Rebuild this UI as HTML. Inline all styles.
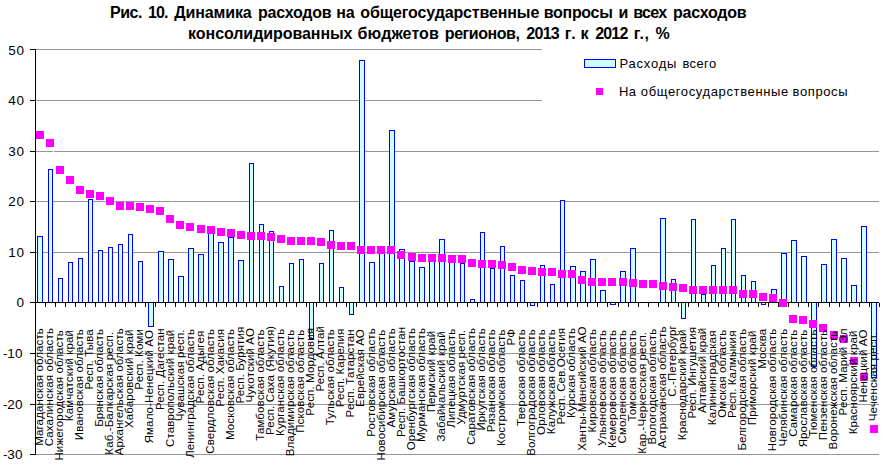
<!DOCTYPE html>
<html><head><meta charset="utf-8"><style>
html,body{margin:0;padding:0;background:#fff;}
svg{display:block;}
.g{stroke:#969696;stroke-width:1;}
.a{stroke:#000;stroke-width:1;}
.b{fill:#ccffff;stroke:#0000ff;stroke-width:1;}
.m{fill:#ff00ff;}
text{font-family:"Liberation Sans",Arial,sans-serif;fill:#000;}
.yl{font-size:13.5px;text-anchor:end;}
.cl{font-size:11.5px;letter-spacing:0.13px;text-anchor:end;}
.lg{font-size:13px;}
.t{font-size:16px;font-weight:bold;}
</style></head><body>
<svg width="883" height="469" viewBox="0 0 883 469" shape-rendering="crispEdges">
<line x1="36" y1="49.5" x2="879" y2="49.5" class="g"/>
<line x1="36" y1="100.5" x2="879" y2="100.5" class="g"/>
<line x1="36" y1="151.5" x2="879" y2="151.5" class="g"/>
<line x1="36" y1="201.5" x2="879" y2="201.5" class="g"/>
<line x1="36" y1="252.5" x2="879" y2="252.5" class="g"/>
<line x1="36" y1="353.5" x2="879" y2="353.5" class="g"/>
<line x1="36" y1="404.5" x2="879" y2="404.5" class="g"/>
<line x1="36" y1="454.5" x2="879" y2="454.5" class="g"/>
<rect x="53" y="151" width="1" height="1" fill="#fff"/>
<rect x="37.5" y="236.5" width="5" height="66" class="b"/>
<rect x="48.5" y="169.5" width="4" height="133" class="b"/>
<rect x="58.5" y="278.5" width="4" height="24" class="b"/>
<rect x="68.5" y="262.5" width="4" height="40" class="b"/>
<rect x="78.5" y="258.5" width="4" height="44" class="b"/>
<rect x="88.5" y="199.5" width="4" height="103" class="b"/>
<rect x="98.5" y="250.5" width="4" height="52" class="b"/>
<rect x="108.5" y="247.5" width="4" height="55" class="b"/>
<rect x="118.5" y="244.5" width="4" height="58" class="b"/>
<rect x="128.5" y="234.5" width="4" height="68" class="b"/>
<rect x="138.5" y="261.5" width="4" height="41" class="b"/>
<rect x="148.5" y="302.5" width="5" height="24" class="b"/>
<rect x="158.5" y="251.5" width="5" height="51" class="b"/>
<rect x="168.5" y="259.5" width="5" height="43" class="b"/>
<rect x="178.5" y="276.5" width="5" height="26" class="b"/>
<rect x="188.5" y="248.5" width="5" height="54" class="b"/>
<rect x="198.5" y="254.5" width="5" height="48" class="b"/>
<rect x="208.5" y="232.5" width="5" height="70" class="b"/>
<rect x="218.5" y="242.5" width="5" height="60" class="b"/>
<rect x="228.5" y="237.5" width="5" height="65" class="b"/>
<rect x="238.5" y="260.5" width="5" height="42" class="b"/>
<rect x="249.5" y="163.5" width="4" height="139" class="b"/>
<rect x="259.5" y="224.5" width="4" height="78" class="b"/>
<rect x="269.5" y="231.5" width="4" height="71" class="b"/>
<rect x="279.5" y="286.5" width="4" height="16" class="b"/>
<rect x="289.5" y="263.5" width="4" height="39" class="b"/>
<rect x="299.5" y="259.5" width="4" height="43" class="b"/>
<rect x="309.5" y="302.5" width="4" height="36" class="b"/>
<rect x="319.5" y="263.5" width="4" height="39" class="b"/>
<rect x="329.5" y="230.5" width="4" height="72" class="b"/>
<rect x="339.5" y="287.5" width="4" height="15" class="b"/>
<rect x="349.5" y="302.5" width="4" height="12" class="b"/>
<rect x="359.5" y="60.5" width="5" height="242" class="b"/>
<rect x="369.5" y="262.5" width="5" height="40" class="b"/>
<rect x="379.5" y="249.5" width="5" height="53" class="b"/>
<rect x="389.5" y="130.5" width="5" height="172" class="b"/>
<rect x="399.5" y="249.5" width="5" height="53" class="b"/>
<rect x="409.5" y="261.5" width="5" height="41" class="b"/>
<rect x="419.5" y="267.5" width="5" height="35" class="b"/>
<rect x="429.5" y="259.5" width="5" height="43" class="b"/>
<rect x="439.5" y="239.5" width="5" height="63" class="b"/>
<rect x="449.5" y="259.5" width="5" height="43" class="b"/>
<rect x="460.5" y="263.5" width="4" height="39" class="b"/>
<rect x="470.5" y="299.5" width="4" height="3" class="b"/>
<rect x="480.5" y="232.5" width="4" height="70" class="b"/>
<rect x="490.5" y="268.5" width="4" height="34" class="b"/>
<rect x="500.5" y="246.5" width="4" height="56" class="b"/>
<rect x="510.5" y="275.5" width="4" height="27" class="b"/>
<rect x="520.5" y="280.5" width="4" height="22" class="b"/>
<rect x="530.5" y="302.5" width="4" height="3" class="b"/>
<rect x="540.5" y="265.5" width="4" height="37" class="b"/>
<rect x="550.5" y="284.5" width="4" height="18" class="b"/>
<rect x="560.5" y="200.5" width="4" height="102" class="b"/>
<rect x="570.5" y="266.5" width="5" height="36" class="b"/>
<rect x="580.5" y="271.5" width="5" height="31" class="b"/>
<rect x="590.5" y="259.5" width="5" height="43" class="b"/>
<rect x="600.5" y="290.5" width="5" height="12" class="b"/>
<rect x="610.5" y="302.5" width="5" height="2" class="b"/>
<rect x="620.5" y="271.5" width="5" height="31" class="b"/>
<rect x="630.5" y="248.5" width="5" height="54" class="b"/>
<rect x="660.5" y="218.5" width="5" height="84" class="b"/>
<rect x="671.5" y="279.5" width="4" height="23" class="b"/>
<rect x="681.5" y="302.5" width="4" height="16" class="b"/>
<rect x="691.5" y="219.5" width="4" height="83" class="b"/>
<rect x="701.5" y="294.5" width="4" height="8" class="b"/>
<rect x="711.5" y="265.5" width="4" height="37" class="b"/>
<rect x="721.5" y="248.5" width="4" height="54" class="b"/>
<rect x="731.5" y="219.5" width="4" height="83" class="b"/>
<rect x="741.5" y="275.5" width="4" height="27" class="b"/>
<rect x="751.5" y="281.5" width="4" height="21" class="b"/>
<rect x="761.5" y="302.5" width="4" height="2" class="b"/>
<rect x="771.5" y="289.5" width="5" height="13" class="b"/>
<rect x="781.5" y="253.5" width="5" height="49" class="b"/>
<rect x="791.5" y="240.5" width="5" height="62" class="b"/>
<rect x="801.5" y="256.5" width="5" height="46" class="b"/>
<rect x="811.5" y="302.5" width="5" height="64" class="b"/>
<rect x="821.5" y="264.5" width="5" height="38" class="b"/>
<rect x="831.5" y="239.5" width="5" height="63" class="b"/>
<rect x="841.5" y="258.5" width="5" height="44" class="b"/>
<rect x="851.5" y="285.5" width="5" height="17" class="b"/>
<rect x="861.5" y="226.5" width="5" height="76" class="b"/>
<rect x="871.5" y="302.5" width="5" height="75" class="b"/>
<line x1="35.5" y1="49" x2="35.5" y2="455" class="a"/>
<line x1="30" y1="49.5" x2="35" y2="49.5" class="a"/>
<line x1="30" y1="100.5" x2="35" y2="100.5" class="a"/>
<line x1="30" y1="151.5" x2="35" y2="151.5" class="a"/>
<line x1="30" y1="201.5" x2="35" y2="201.5" class="a"/>
<line x1="30" y1="252.5" x2="35" y2="252.5" class="a"/>
<line x1="30" y1="302.5" x2="35" y2="302.5" class="a"/>
<line x1="30" y1="353.5" x2="35" y2="353.5" class="a"/>
<line x1="30" y1="404.5" x2="35" y2="404.5" class="a"/>
<line x1="30" y1="454.5" x2="35" y2="454.5" class="a"/>
<line x1="35" y1="302.5" x2="879" y2="302.5" class="a"/>
<line x1="45.5" y1="303" x2="45.5" y2="307" class="a"/>
<line x1="55.5" y1="303" x2="55.5" y2="307" class="a"/>
<line x1="65.5" y1="303" x2="65.5" y2="307" class="a"/>
<line x1="75.5" y1="303" x2="75.5" y2="307" class="a"/>
<line x1="85.5" y1="303" x2="85.5" y2="307" class="a"/>
<line x1="95.5" y1="303" x2="95.5" y2="307" class="a"/>
<line x1="105.5" y1="303" x2="105.5" y2="307" class="a"/>
<line x1="115.5" y1="303" x2="115.5" y2="307" class="a"/>
<line x1="125.5" y1="303" x2="125.5" y2="307" class="a"/>
<line x1="135.5" y1="303" x2="135.5" y2="307" class="a"/>
<line x1="145.5" y1="303" x2="145.5" y2="307" class="a"/>
<line x1="155.5" y1="303" x2="155.5" y2="307" class="a"/>
<line x1="165.5" y1="303" x2="165.5" y2="307" class="a"/>
<line x1="175.5" y1="303" x2="175.5" y2="307" class="a"/>
<line x1="185.5" y1="303" x2="185.5" y2="307" class="a"/>
<line x1="195.5" y1="303" x2="195.5" y2="307" class="a"/>
<line x1="206.5" y1="303" x2="206.5" y2="307" class="a"/>
<line x1="216.5" y1="303" x2="216.5" y2="307" class="a"/>
<line x1="226.5" y1="303" x2="226.5" y2="307" class="a"/>
<line x1="236.5" y1="303" x2="236.5" y2="307" class="a"/>
<line x1="246.5" y1="303" x2="246.5" y2="307" class="a"/>
<line x1="256.5" y1="303" x2="256.5" y2="307" class="a"/>
<line x1="266.5" y1="303" x2="266.5" y2="307" class="a"/>
<line x1="276.5" y1="303" x2="276.5" y2="307" class="a"/>
<line x1="286.5" y1="303" x2="286.5" y2="307" class="a"/>
<line x1="296.5" y1="303" x2="296.5" y2="307" class="a"/>
<line x1="306.5" y1="303" x2="306.5" y2="307" class="a"/>
<line x1="316.5" y1="303" x2="316.5" y2="307" class="a"/>
<line x1="326.5" y1="303" x2="326.5" y2="307" class="a"/>
<line x1="336.5" y1="303" x2="336.5" y2="307" class="a"/>
<line x1="346.5" y1="303" x2="346.5" y2="307" class="a"/>
<line x1="356.5" y1="303" x2="356.5" y2="307" class="a"/>
<line x1="366.5" y1="303" x2="366.5" y2="307" class="a"/>
<line x1="376.5" y1="303" x2="376.5" y2="307" class="a"/>
<line x1="386.5" y1="303" x2="386.5" y2="307" class="a"/>
<line x1="396.5" y1="303" x2="396.5" y2="307" class="a"/>
<line x1="406.5" y1="303" x2="406.5" y2="307" class="a"/>
<line x1="417.5" y1="303" x2="417.5" y2="307" class="a"/>
<line x1="427.5" y1="303" x2="427.5" y2="307" class="a"/>
<line x1="437.5" y1="303" x2="437.5" y2="307" class="a"/>
<line x1="447.5" y1="303" x2="447.5" y2="307" class="a"/>
<line x1="457.5" y1="303" x2="457.5" y2="307" class="a"/>
<line x1="467.5" y1="303" x2="467.5" y2="307" class="a"/>
<line x1="477.5" y1="303" x2="477.5" y2="307" class="a"/>
<line x1="487.5" y1="303" x2="487.5" y2="307" class="a"/>
<line x1="497.5" y1="303" x2="497.5" y2="307" class="a"/>
<line x1="507.5" y1="303" x2="507.5" y2="307" class="a"/>
<line x1="517.5" y1="303" x2="517.5" y2="307" class="a"/>
<line x1="527.5" y1="303" x2="527.5" y2="307" class="a"/>
<line x1="537.5" y1="303" x2="537.5" y2="307" class="a"/>
<line x1="547.5" y1="303" x2="547.5" y2="307" class="a"/>
<line x1="557.5" y1="303" x2="557.5" y2="307" class="a"/>
<line x1="567.5" y1="303" x2="567.5" y2="307" class="a"/>
<line x1="577.5" y1="303" x2="577.5" y2="307" class="a"/>
<line x1="587.5" y1="303" x2="587.5" y2="307" class="a"/>
<line x1="597.5" y1="303" x2="597.5" y2="307" class="a"/>
<line x1="607.5" y1="303" x2="607.5" y2="307" class="a"/>
<line x1="618.5" y1="303" x2="618.5" y2="307" class="a"/>
<line x1="628.5" y1="303" x2="628.5" y2="307" class="a"/>
<line x1="638.5" y1="303" x2="638.5" y2="307" class="a"/>
<line x1="648.5" y1="303" x2="648.5" y2="307" class="a"/>
<line x1="658.5" y1="303" x2="658.5" y2="307" class="a"/>
<line x1="668.5" y1="303" x2="668.5" y2="307" class="a"/>
<line x1="678.5" y1="303" x2="678.5" y2="307" class="a"/>
<line x1="688.5" y1="303" x2="688.5" y2="307" class="a"/>
<line x1="698.5" y1="303" x2="698.5" y2="307" class="a"/>
<line x1="708.5" y1="303" x2="708.5" y2="307" class="a"/>
<line x1="718.5" y1="303" x2="718.5" y2="307" class="a"/>
<line x1="728.5" y1="303" x2="728.5" y2="307" class="a"/>
<line x1="738.5" y1="303" x2="738.5" y2="307" class="a"/>
<line x1="748.5" y1="303" x2="748.5" y2="307" class="a"/>
<line x1="758.5" y1="303" x2="758.5" y2="307" class="a"/>
<line x1="768.5" y1="303" x2="768.5" y2="307" class="a"/>
<line x1="778.5" y1="303" x2="778.5" y2="307" class="a"/>
<line x1="788.5" y1="303" x2="788.5" y2="307" class="a"/>
<line x1="798.5" y1="303" x2="798.5" y2="307" class="a"/>
<line x1="808.5" y1="303" x2="808.5" y2="307" class="a"/>
<line x1="818.5" y1="303" x2="818.5" y2="307" class="a"/>
<line x1="829.5" y1="303" x2="829.5" y2="307" class="a"/>
<line x1="839.5" y1="303" x2="839.5" y2="307" class="a"/>
<line x1="849.5" y1="303" x2="849.5" y2="307" class="a"/>
<line x1="859.5" y1="303" x2="859.5" y2="307" class="a"/>
<line x1="869.5" y1="303" x2="869.5" y2="307" class="a"/>
<line x1="879.5" y1="303" x2="879.5" y2="307" class="a"/>
<rect x="36" y="131" width="8" height="8" class="m"/>
<rect x="46" y="139" width="8" height="8" class="m"/>
<rect x="56" y="166" width="8" height="8" class="m"/>
<rect x="66" y="176" width="8" height="8" class="m"/>
<rect x="76" y="186" width="8" height="8" class="m"/>
<rect x="86" y="190" width="8" height="8" class="m"/>
<rect x="96" y="192" width="8" height="8" class="m"/>
<rect x="106" y="197" width="8" height="8" class="m"/>
<rect x="116" y="202" width="8" height="8" class="m"/>
<rect x="126" y="202" width="8" height="8" class="m"/>
<rect x="136" y="203" width="8" height="8" class="m"/>
<rect x="146" y="205" width="8" height="8" class="m"/>
<rect x="156" y="207" width="8" height="8" class="m"/>
<rect x="166" y="215" width="8" height="8" class="m"/>
<rect x="176" y="221" width="8" height="8" class="m"/>
<rect x="186" y="223" width="8" height="8" class="m"/>
<rect x="197" y="225" width="8" height="8" class="m"/>
<rect x="207" y="226" width="8" height="8" class="m"/>
<rect x="217" y="228" width="8" height="8" class="m"/>
<rect x="227" y="229" width="8" height="8" class="m"/>
<rect x="237" y="231" width="8" height="8" class="m"/>
<rect x="247" y="232" width="8" height="8" class="m"/>
<rect x="257" y="232" width="8" height="8" class="m"/>
<rect x="267" y="233" width="8" height="8" class="m"/>
<rect x="277" y="235" width="8" height="8" class="m"/>
<rect x="287" y="237" width="8" height="8" class="m"/>
<rect x="297" y="237" width="8" height="8" class="m"/>
<rect x="307" y="237" width="8" height="8" class="m"/>
<rect x="317" y="238" width="8" height="8" class="m"/>
<rect x="327" y="241" width="8" height="8" class="m"/>
<rect x="337" y="242" width="8" height="8" class="m"/>
<rect x="347" y="242" width="8" height="8" class="m"/>
<rect x="357" y="246" width="8" height="8" class="m"/>
<rect x="367" y="246" width="8" height="8" class="m"/>
<rect x="377" y="246" width="8" height="8" class="m"/>
<rect x="387" y="246" width="8" height="8" class="m"/>
<rect x="397" y="251" width="8" height="8" class="m"/>
<rect x="408" y="253" width="8" height="8" class="m"/>
<rect x="418" y="254" width="8" height="8" class="m"/>
<rect x="428" y="254" width="8" height="8" class="m"/>
<rect x="438" y="254" width="8" height="8" class="m"/>
<rect x="448" y="255" width="8" height="8" class="m"/>
<rect x="458" y="255" width="8" height="8" class="m"/>
<rect x="468" y="259" width="8" height="8" class="m"/>
<rect x="478" y="260" width="8" height="8" class="m"/>
<rect x="488" y="260" width="8" height="8" class="m"/>
<rect x="498" y="261" width="8" height="8" class="m"/>
<rect x="508" y="263" width="8" height="8" class="m"/>
<rect x="518" y="266" width="8" height="8" class="m"/>
<rect x="528" y="267" width="8" height="8" class="m"/>
<rect x="538" y="268" width="8" height="8" class="m"/>
<rect x="548" y="268" width="8" height="8" class="m"/>
<rect x="558" y="270" width="8" height="8" class="m"/>
<rect x="568" y="270" width="8" height="8" class="m"/>
<rect x="578" y="276" width="8" height="8" class="m"/>
<rect x="588" y="278" width="8" height="8" class="m"/>
<rect x="598" y="278" width="8" height="8" class="m"/>
<rect x="608" y="278" width="8" height="8" class="m"/>
<rect x="619" y="278" width="8" height="8" class="m"/>
<rect x="629" y="279" width="8" height="8" class="m"/>
<rect x="639" y="280" width="8" height="8" class="m"/>
<rect x="649" y="280" width="8" height="8" class="m"/>
<rect x="659" y="282" width="8" height="8" class="m"/>
<rect x="669" y="283" width="8" height="8" class="m"/>
<rect x="679" y="284" width="8" height="8" class="m"/>
<rect x="689" y="286" width="8" height="8" class="m"/>
<rect x="699" y="286" width="8" height="8" class="m"/>
<rect x="709" y="286" width="8" height="8" class="m"/>
<rect x="719" y="286" width="8" height="8" class="m"/>
<rect x="729" y="286" width="8" height="8" class="m"/>
<rect x="739" y="290" width="8" height="8" class="m"/>
<rect x="749" y="290" width="8" height="8" class="m"/>
<rect x="759" y="293" width="8" height="8" class="m"/>
<rect x="769" y="294" width="8" height="8" class="m"/>
<rect x="779" y="299" width="8" height="8" class="m"/>
<rect x="789" y="315" width="8" height="8" class="m"/>
<rect x="799" y="316" width="8" height="8" class="m"/>
<rect x="809" y="320" width="8" height="8" class="m"/>
<rect x="819" y="324" width="8" height="8" class="m"/>
<rect x="830" y="331" width="8" height="8" class="m"/>
<rect x="840" y="335" width="8" height="8" class="m"/>
<rect x="850" y="357" width="8" height="8" class="m"/>
<rect x="860" y="373" width="8" height="8" class="m"/>
<rect x="870" y="425" width="8" height="8" class="m"/>
<text x="24.9" y="55" class="yl" letter-spacing="0.8">50</text>
<text x="24.9" y="105" class="yl" letter-spacing="0.8">40</text>
<text x="24.9" y="156" class="yl" letter-spacing="0.8">30</text>
<text x="24.9" y="206" class="yl" letter-spacing="0.8">20</text>
<text x="24.9" y="257" class="yl" letter-spacing="0.8">10</text>
<text x="24.9" y="307" class="yl" letter-spacing="0.8">0</text>
<text x="22.4" y="358.4" class="yl">-10</text>
<text x="22.4" y="409.4" class="yl">-20</text>
<text x="22.4" y="459.4" class="yl">-30</text>
<text transform="translate(42.94,328.0) rotate(-90)" class="cl">Магаданская область</text>
<text transform="translate(52.99,328.0) rotate(-90)" class="cl">Сахалинская область</text>
<text transform="translate(63.04,330.0) rotate(-90)" class="cl">Нижегородская область</text>
<text transform="translate(73.09,329.9) rotate(-90)" class="cl">Камчатский край</text>
<text transform="translate(83.14,329.1) rotate(-90)" class="cl">Ивановская область</text>
<text transform="translate(93.18,329.1) rotate(-90)" class="cl">Респ. Тыва</text>
<text transform="translate(103.23,328.9) rotate(-90)" class="cl">Брянская область</text>
<text transform="translate(113.28,331.7) rotate(-90)" class="cl">Каб.-Балкарская респ.</text>
<text transform="translate(123.33,328.2) rotate(-90)" class="cl">Архангельская область</text>
<text transform="translate(133.38,329.4) rotate(-90)" class="cl">Хабаровский край</text>
<text transform="translate(143.42,329.0) rotate(-90)" class="cl">Респ. Коми</text>
<text transform="translate(153.47,330.0) rotate(-90)" class="cl">Ямало-Ненецкий АО</text>
<text transform="translate(163.52,328.2) rotate(-90)" class="cl">Респ. Дагестан</text>
<text transform="translate(173.57,329.7) rotate(-90)" class="cl">Ставропольский край</text>
<text transform="translate(183.62,329.4) rotate(-90)" class="cl">Чувашская респ.</text>
<text transform="translate(193.66,328.9) rotate(-90)" class="cl">Ленинградская область</text>
<text transform="translate(203.71,330.7) rotate(-90)" class="cl">Респ. Адыгея</text>
<text transform="translate(213.76,328.9) rotate(-90)" class="cl">Свердловская область</text>
<text transform="translate(223.81,328.9) rotate(-90)" class="cl">Респ. Хакасия</text>
<text transform="translate(233.86,328.9) rotate(-90)" class="cl">Московская область</text>
<text transform="translate(243.90,326.6) rotate(-90)" class="cl">Респ. Бурятия</text>
<text transform="translate(253.95,328.0) rotate(-90)" class="cl">Чукотский АО</text>
<text transform="translate(264.00,329.3) rotate(-90)" class="cl">Тамбовская область</text>
<text transform="translate(274.05,325.7) rotate(-90)" class="cl">Респ. Саха (Якутия)</text>
<text transform="translate(284.10,328.7) rotate(-90)" class="cl">Курганская область</text>
<text transform="translate(294.14,329.6) rotate(-90)" class="cl">Владимирская область</text>
<text transform="translate(304.19,329.6) rotate(-90)" class="cl">Псковская область</text>
<text transform="translate(314.24,327.8) rotate(-90)" class="cl">Респ. Мордовия</text>
<text transform="translate(324.29,325.9) rotate(-90)" class="cl">Респ. Алтай</text>
<text transform="translate(334.34,329.1) rotate(-90)" class="cl">Тульская область</text>
<text transform="translate(344.38,328.7) rotate(-90)" class="cl">Респ. Карелия</text>
<text transform="translate(354.43,329.3) rotate(-90)" class="cl">Респ. Татарстан</text>
<text transform="translate(364.48,329.1) rotate(-90)" class="cl">Еврейская АО</text>
<text transform="translate(374.53,328.2) rotate(-90)" class="cl">Ростовская область</text>
<text transform="translate(384.58,329.6) rotate(-90)" class="cl">Новосибирская область</text>
<text transform="translate(394.62,328.2) rotate(-90)" class="cl">Амурская область</text>
<text transform="translate(404.67,326.8) rotate(-90)" class="cl">Респ. Башкортостан</text>
<text transform="translate(414.72,327.9) rotate(-90)" class="cl">Оренбургская область</text>
<text transform="translate(424.77,327.9) rotate(-90)" class="cl">Мурманская область</text>
<text transform="translate(434.82,330.6) rotate(-90)" class="cl">Пермский край</text>
<text transform="translate(444.86,331.3) rotate(-90)" class="cl">Забайкальский край</text>
<text transform="translate(454.91,328.7) rotate(-90)" class="cl">Липецкая область</text>
<text transform="translate(464.96,329.8) rotate(-90)" class="cl">Удмуртская респ.</text>
<text transform="translate(475.01,327.9) rotate(-90)" class="cl">Саратовская область</text>
<text transform="translate(485.06,328.2) rotate(-90)" class="cl">Иркутская область</text>
<text transform="translate(495.10,329.1) rotate(-90)" class="cl">Рязанская область</text>
<text transform="translate(505.15,329.4) rotate(-90)" class="cl">Костромская область</text>
<text transform="translate(515.20,328.9) rotate(-90)" class="cl">РФ</text>
<text transform="translate(525.25,329.1) rotate(-90)" class="cl">Тверская область</text>
<text transform="translate(535.30,329.1) rotate(-90)" class="cl">Волгоградская область</text>
<text transform="translate(545.34,329.1) rotate(-90)" class="cl">Орловская область</text>
<text transform="translate(555.39,329.1) rotate(-90)" class="cl">Калужская область</text>
<text transform="translate(565.44,327.9) rotate(-90)" class="cl">Респ. Сев.Осетия</text>
<text transform="translate(575.49,327.9) rotate(-90)" class="cl">Курская область</text>
<text transform="translate(585.54,326.3) rotate(-90)" class="cl">Ханты-Мансийский АО</text>
<text transform="translate(595.58,328.9) rotate(-90)" class="cl">Кировская область</text>
<text transform="translate(605.63,329.8) rotate(-90)" class="cl">Ульяновская область</text>
<text transform="translate(615.68,329.8) rotate(-90)" class="cl">Кемеровская область</text>
<text transform="translate(625.73,329.8) rotate(-90)" class="cl">Смоленская область</text>
<text transform="translate(635.78,329.8) rotate(-90)" class="cl">Томская область</text>
<text transform="translate(645.82,331.8) rotate(-90)" class="cl">Кар.-Черкесская респ.</text>
<text transform="translate(655.87,328.7) rotate(-90)" class="cl">Вологодская область</text>
<text transform="translate(665.92,326.4) rotate(-90)" class="cl">Астраханская область</text>
<text transform="translate(675.97,325.1) rotate(-90)" class="cl">С.-Петербург</text>
<text transform="translate(686.02,329.5) rotate(-90)" class="cl">Краснодарский край</text>
<text transform="translate(696.06,326.9) rotate(-90)" class="cl">Респ. Ингушетия</text>
<text transform="translate(706.11,327.7) rotate(-90)" class="cl">Алтайский край</text>
<text transform="translate(716.16,330.5) rotate(-90)" class="cl">Калининградская</text>
<text transform="translate(726.21,329.6) rotate(-90)" class="cl">Омская область</text>
<text transform="translate(736.26,330.5) rotate(-90)" class="cl">Респ. Калмыкия</text>
<text transform="translate(746.30,328.7) rotate(-90)" class="cl">Белгородская область</text>
<text transform="translate(756.35,330.4) rotate(-90)" class="cl">Приморский край</text>
<text transform="translate(766.40,328.7) rotate(-90)" class="cl">Москва</text>
<text transform="translate(776.45,328.7) rotate(-90)" class="cl">Новгородская область</text>
<text transform="translate(786.50,328.7) rotate(-90)" class="cl">Челябинская область</text>
<text transform="translate(796.54,329.6) rotate(-90)" class="cl">Самарская область</text>
<text transform="translate(806.59,329.5) rotate(-90)" class="cl">Ярославская область</text>
<text transform="translate(816.64,329.5) rotate(-90)" class="cl">Тюменская область</text>
<text transform="translate(826.69,329.5) rotate(-90)" class="cl">Пензенская область</text>
<text transform="translate(836.74,330.5) rotate(-90)" class="cl">Воронежская область</text>
<text transform="translate(846.78,328.5) rotate(-90)" class="cl">Респ. Марий Эл</text>
<text transform="translate(856.83,330.4) rotate(-90)" class="cl">Красноярский край</text>
<text transform="translate(866.88,329.5) rotate(-90)" class="cl">Ненецкий АО</text>
<text transform="translate(876.93,332.0) rotate(-90)" class="cl">Чеченская респ.</text>
<rect x="542" y="44" width="337" height="62" fill="#fff"/>
<rect x="584.5" y="59.5" width="31" height="8" class="b"/>
<rect x="596" y="88" width="7" height="7" class="m"/>
<text x="619.4" y="68" class="lg" textLength="57.04" lengthAdjust="spacing">Расходы</text>
<text x="682.5" y="68" class="lg" textLength="33.63" lengthAdjust="spacing">всего</text>
<text x="619" y="96" class="lg" textLength="16.93" lengthAdjust="spacing">На</text>
<text x="640.8" y="96" class="lg" textLength="147.43" lengthAdjust="spacing">общегосударственные</text>
<text x="792.6" y="96" class="lg" textLength="54.94" lengthAdjust="spacing">вопросы</text>
<text x="109.9" y="18" class="t" textLength="32.65" lengthAdjust="spacing">Рис.</text>
<text x="147.9" y="18" class="t" textLength="20.55" lengthAdjust="spacing">10.</text>
<text x="174.3" y="18" class="t" textLength="77.4" lengthAdjust="spacing">Динамика</text>
<text x="258" y="18" class="t" textLength="73.54" lengthAdjust="spacing">расходов</text>
<text x="336.2" y="18" class="t" textLength="18.5" lengthAdjust="spacing">на</text>
<text x="360.3" y="18" class="t" textLength="179.0" lengthAdjust="spacing">общегосударственные</text>
<text x="543.8" y="18" class="t" textLength="69.06" lengthAdjust="spacing">вопросы</text>
<text x="618.5" y="18" class="t">и</text>
<text x="633.3" y="18" class="t" textLength="33.8" lengthAdjust="spacing">всех</text>
<text x="673" y="18" class="t" textLength="73.64" lengthAdjust="spacing">расходов</text>
<text x="188.1" y="39" class="t" textLength="164.4" lengthAdjust="spacing">консолидированных</text>
<text x="357.6" y="39" class="t" textLength="81.24" lengthAdjust="spacing">бюджетов</text>
<text x="444.8" y="39" class="t" textLength="75.15" lengthAdjust="spacing">регионов,</text>
<text x="526.3" y="39" class="t" textLength="33.4" lengthAdjust="spacing">2013</text>
<text x="564.8" y="39" class="t" textLength="10.95" lengthAdjust="spacing">г.</text>
<text x="580.4" y="39" class="t">к</text>
<text x="595.3" y="39" class="t" textLength="33.0" lengthAdjust="spacing">2012</text>
<text x="633.8" y="39" class="t" textLength="15.15" lengthAdjust="spacing">г.,</text>
<text x="655.55" y="39" class="t">%</text>
</svg>
</body></html>
